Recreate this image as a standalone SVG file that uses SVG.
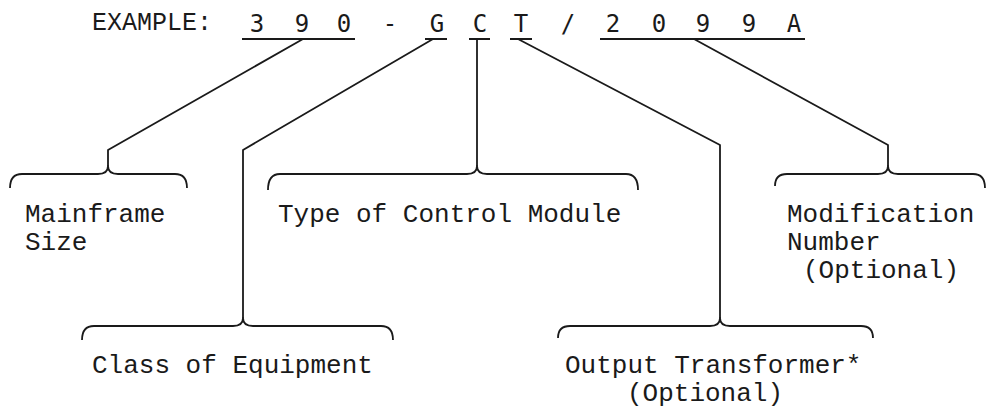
<svg xmlns="http://www.w3.org/2000/svg" width="987" height="410" viewBox="0 0 987 410">
<style>
.lbl{font-family:"Liberation Mono","Courier New",monospace;font-size:26px;fill:#1a1a1a}
.code{font-family:"DejaVu Sans Mono",monospace;font-size:24px;fill:#1a1a1a;text-anchor:middle}
.ln{fill:none;stroke:#1a1a1a;stroke-width:1.8;stroke-linejoin:round}
</style>
<rect width="987" height="410" fill="#ffffff"/>
<g id="header">
<text class="lbl" x="92" y="30" style="font-size:25px">EXAMPLE:</text>
<text class="code" x="257" y="32">3</text>
<text class="code" x="302" y="32">9</text>
<text class="code" x="344" y="32">0</text>
<text class="code" x="390" y="32">-</text>
<text class="code" x="437" y="32">G</text>
<text class="code" x="480" y="32">C</text>
<text class="code" x="521" y="32">T</text>
<text class="code" x="568" y="32">/</text>
<text class="code" x="613" y="32">2</text>
<text class="code" x="659" y="32">0</text>
<text class="code" x="703" y="32">9</text>
<text class="code" x="749" y="32">9</text>
<text class="code" x="794" y="32">A</text>
<path class="ln" d="M242 39H355M425 39H447M469 39H490M510 39H532M600 39H805"/>
</g>
<g id="connectors">
<path class="ln" d="M303 39L108 150V166"/>
<path class="ln" d="M433 39L243 150V318"/>
<path class="ln" d="M477 39V166"/>
<path class="ln" d="M518 39L720 145V318"/>
<path class="ln" d="M694 39L888 145V166"/>
</g>
<g id="mainframe">
<path class="ln" d="M10 188Q10 174 22 174H98Q108 174 108 166Q108 174 118 174H175Q187 174 187 188"/>
<text class="lbl" x="25" y="222">Mainframe</text>
<text class="lbl" x="25" y="250">Size</text>
</g>
<g id="control">
<path class="ln" d="M268 190Q268 174 280 174H467Q477 174 477 166Q477 174 487 174H626Q638 174 638 190"/>
<text class="lbl" x="278" y="222">Type of Control Module</text>
</g>
<g id="modification">
<path class="ln" d="M775 186Q775 174 787 174H878Q888 174 888 166Q888 174 898 174H973Q985 174 985 188"/>
<text class="lbl" x="787" y="222">Modification</text>
<text class="lbl" x="787" y="250">Number</text>
<text class="lbl" x="803" y="278">(Optional)</text>
</g>
<g id="class">
<path class="ln" d="M82 340Q82 326 94 326H233Q243 326 243 318Q243 326 253 326H381Q393 326 393 340"/>
<text class="lbl" x="92" y="373">Class of Equipment</text>
</g>
<g id="output">
<path class="ln" d="M558 338Q558 326 570 326H710Q720 326 720 318Q720 326 730 326H861Q873 326 873 338"/>
<text class="lbl" x="565" y="373">Output Transformer*</text>
<text class="lbl" x="627" y="401">(Optional)</text>
</g>
</svg>
